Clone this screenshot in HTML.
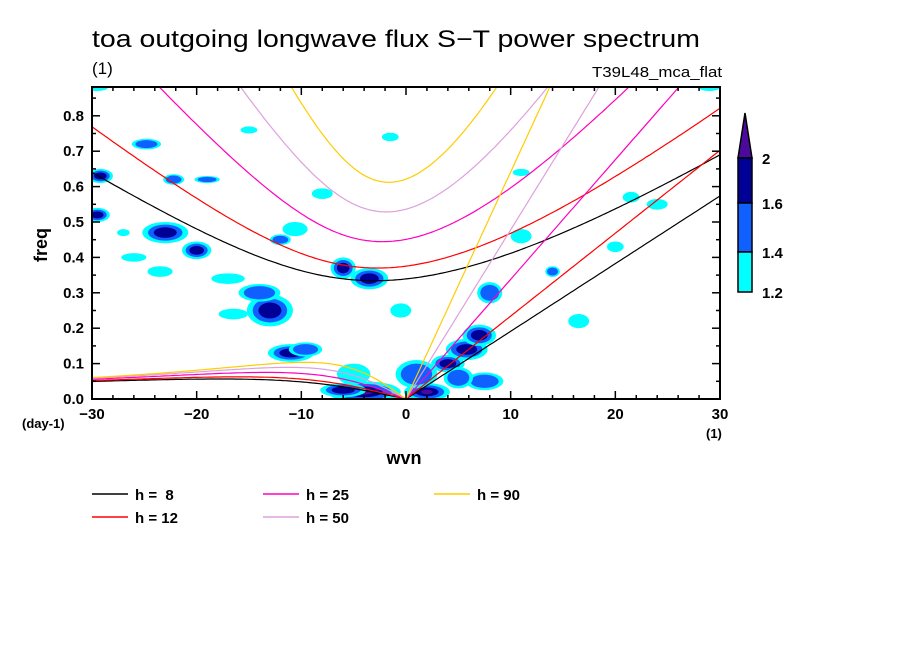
<!DOCTYPE html>
<html><head><meta charset="utf-8"><style>
body{margin:0;background:#fff}
svg text{font-family:"Liberation Sans",sans-serif;fill:#000}
</style></head><body>
<svg id="chart" width="904" height="654" viewBox="0 0 904 654">
<defs><clipPath id="pc"><rect x="92" y="87" width="628" height="312"/></clipPath></defs>
<text x="92" y="47" font-size="24" textLength="608" lengthAdjust="spacingAndGlyphs">toa outgoing longwave flux S−T power spectrum</text>
<text x="92" y="74" font-size="17">(1)</text>
<text x="722" y="77" font-size="15" text-anchor="end" textLength="130" lengthAdjust="spacingAndGlyphs">T39L48_mca_flat</text>
<g id="blobs" clip-path="url(#pc)"></g>
<g id="curves" clip-path="url(#pc)"></g>
<rect x="92" y="87" width="628" height="312" fill="none" stroke="#000" stroke-width="2"/>
<g id="axes"></g>
<text transform="translate(47,245) rotate(-90)" font-size="18" font-weight="bold" text-anchor="middle">freq</text>
<text x="404" y="464" font-size="18" font-weight="bold" text-anchor="middle">wvn</text>
<text x="22" y="428" font-size="13" font-weight="bold">(day-1)</text>
<text x="706" y="438" font-size="13" font-weight="bold">(1)</text>
<g>
<polygon points="738,158 752,158 745,113" fill="#4b0a9c" stroke="#000" stroke-width="1.5"/>
<rect x="738" y="158" width="14" height="45" fill="#000096" stroke="#000" stroke-width="1.5"/>
<rect x="738" y="203" width="14" height="49" fill="#1060ff" stroke="#000" stroke-width="1.5"/>
<rect x="738" y="252" width="14" height="40" fill="#00ffff" stroke="#000" stroke-width="1.5"/>
<text x="762" y="164" font-size="15" font-weight="bold">2</text>
<text x="762" y="209" font-size="15" font-weight="bold">1.6</text>
<text x="762" y="258" font-size="15" font-weight="bold">1.4</text>
<text x="762" y="298" font-size="15" font-weight="bold">1.2</text>
</g>
<g id="legend"></g>
</svg>
<script>
const depths=[8,12,25,50,90];
const depthColors=['#000000','#ff0000','#ff00c0','#dda0dd','#ffcc00'];
const legendLabels=['h =  8','h = 12','h = 25','h = 50','h = 90'];
const xTicks=[-30,-20,-10,0,10,20,30];
const yTicks=[0,0.1,0.2,0.3,0.4,0.5,0.6,0.7,0.8];
// blobs: wavenumber, frequency, max level (1..4), half-width (wvn), half-height (freq)
const blobWvn=[-4,-6,2,-6,-3.5,-13,-11,-9.6,4,5.8,7,8,7.5,-23,-29.5,-29.2,-24.8,-22.2,-19,-20,-23.5,-14,-16.5,-10.6,11,14,16.5,20,21.5,24,29,-29.5,-0.5,-15,-8,-1.5,11,-26,-17,5,-27,-12,1,-5];
const blobFreq=[0.02,0.025,0.02,0.37,0.34,0.25,0.13,0.14,0.10,0.14,0.18,0.30,0.05,0.47,0.52,0.63,0.72,0.62,0.62,0.42,0.36,0.30,0.24,0.48,0.46,0.36,0.22,0.43,0.57,0.55,0.88,0.88,0.25,0.76,0.58,0.74,0.64,0.40,0.34,0.06,0.47,0.45,0.07,0.07];
const blobLevel=[4,3,4,3,3,3,3,2,3,3,3,2,2,3,3,3,2,2,2,3,1,2,1,1,1,2,1,1,1,1,1,1,1,1,1,1,1,1,1,2,1,2,2,1];
const blobRx=[3.5,2.2,2.2,1.2,1.8,2.2,2.2,1.6,1.6,2,1.6,1.2,1.8,2.2,1.2,1.2,1.4,1,1.2,1.4,1.2,2,1.4,1.2,1,0.7,1,0.8,0.8,1,1,1,1,0.8,1,0.8,0.8,1.2,1.6,1.4,0.6,1,2,1.6];
const blobRy=[0.03,0.02,0.025,0.03,0.03,0.045,0.025,0.02,0.025,0.03,0.03,0.03,0.025,0.03,0.02,0.02,0.015,0.015,0.01,0.025,0.015,0.025,0.015,0.02,0.02,0.015,0.02,0.015,0.015,0.015,0.01,0.01,0.02,0.01,0.015,0.012,0.01,0.012,0.015,0.03,0.01,0.015,0.04,0.03];
const levelColors=['#00ffff','#1060ff','#000096','#4b0a9c'];
const NS='http://www.w3.org/2000/svg';
const X0=92,X1=720,Y0=399,Y1=87;
function sx(k){return X0+(k+30)/60*(X1-X0);}
function sy(f){return Y0-f*354;}
function mk(tag,attrs,parent){const e=document.createElementNS(NS,tag);for(const a in attrs)e.setAttribute(a,attrs[a]);parent.appendChild(e);return e;}
const blobs=document.getElementById('blobs');
for(let i=0;i<blobWvn.length;i++){
  for(let L=1;L<=blobLevel[i];L++){
    const s=1-0.25*(L-1);
    const el=mk('ellipse',{cx:sx(blobWvn[i]),cy:sy(blobFreq[i]),rx:blobRx[i]*s*10.47,ry:blobRy[i]*s*354,fill:levelColors[L-1]},blobs);
    
    
  }
}
const a=6.371e6,beta=2.289e-11,g=9.81,cpd=86400/(2*Math.PI);
const curves=document.getElementById('curves');
function path(pts,color,name){
  const d=pts.map((p,i)=>(i?'L':'M')+sx(p[0]).toFixed(1)+','+sy(p[1]).toFixed(1)).join('');
  const el=mk('path',{d:d,fill:'none',stroke:color,'stroke-width':1.2},curves);
  
  
}
depths.forEach((h,j)=>{
  const c=Math.sqrt(g*h);const col=depthColors[j];
  const ig=[],er=[],kel=[];
  for(let s=-30;s<=30.001;s+=0.25){
    const k=s/a;
    let w=Math.sqrt(c*c*k*k+3*beta*c)*1.5;
    for(let it=0;it<40;it++){const f=w*w*w-(c*c*k*k+3*beta*c)*w-beta*c*c*k;const df=3*w*w-(c*c*k*k+3*beta*c);w-=f/df;}
    ig.push([s,w*cpd]);
    if(s<=0){er.push([s,-beta*k/(k*k+3*beta/c)*cpd]);}
    if(s>=0){kel.push([s,c*k*cpd]);}
  }
  path(ig,col,'ig-n1-h'+h);path(er,col,'er-n1-h'+h);path(kel,col,'kelvin-h'+h);
});
const ax=document.getElementById('axes');
for(let k=-30;k<=30;k+=2){const major=k%10===0;
  mk('line',{x1:sx(k),x2:sx(k),y1:Y0,y2:Y0-(major?8:4),stroke:'#000','stroke-width':1.5},ax);
  mk('line',{x1:sx(k),x2:sx(k),y1:Y1,y2:Y1+(major?8:4),stroke:'#000','stroke-width':1.5},ax);}
xTicks.forEach(k=>{const t=mk('text',{x:sx(k),y:419,'font-size':15,'font-weight':'bold','text-anchor':'middle'},ax);t.textContent=k<0?'−'+(-k):String(k);
  
  });
for(let i=0;i<=17;i++){const f=i*0.05;const major=i%2===0;
  mk('line',{x1:X0,x2:X0+(major?8:4),y1:sy(f),y2:sy(f),stroke:'#000','stroke-width':1.5},ax);
  mk('line',{x1:X1,x2:X1-(major?8:4),y1:sy(f),y2:sy(f),stroke:'#000','stroke-width':1.5},ax);}
yTicks.forEach(f=>{const t=mk('text',{x:84,y:sy(f)+5,'font-size':15,'font-weight':'bold','text-anchor':'end'},ax);t.textContent=f.toFixed(1);
  
  });
const lg=document.getElementById('legend');
const lx=[92,92,263,263,434],ly=[494,517,494,517,494];
legendLabels.forEach((lab,i)=>{
  const g2=mk('g',{},lg);
  
  
  mk('line',{x1:lx[i],x2:lx[i]+36,y1:ly[i],y2:ly[i],stroke:depthColors[i],'stroke-width':1.5},g2);
  const t=mk('text',{x:lx[i]+43,y:ly[i]+6,'font-size':15,'font-weight':'bold'},g2);
  t.style.whiteSpace='pre';
  t.textContent=lab;
});
</script>
</body></html>
